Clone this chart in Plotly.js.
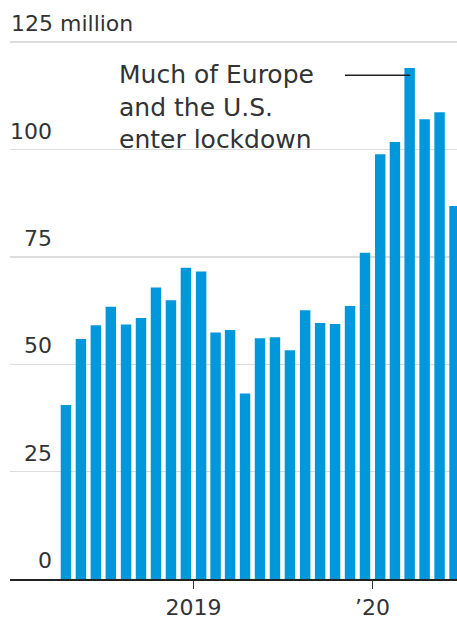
<!DOCTYPE html>
<html>
<head>
<meta charset="utf-8">
<script src="https://cdn.plot.ly/plotly-3.0.1.min.js"></script>
<style>
  html, body { margin: 0; padding: 0; background: #fff; }
  #chart { width: 457px; height: 620px; }
</style>
</head>
<body>
<div id="chart"></div>
<script>
// ---- data ----
const months = [
  '2018-04-01','2018-05-01','2018-06-01','2018-07-01','2018-08-01','2018-09-01',
  '2018-10-01','2018-11-01','2018-12-01','2019-01-01','2019-02-01','2019-03-01',
  '2019-04-01','2019-05-01','2019-06-01','2019-07-01','2019-08-01','2019-09-01',
  '2019-10-01','2019-11-01','2019-12-01','2020-01-01','2020-02-01','2020-03-01',
  '2020-04-01','2020-05-01','2020-06-01'
];
const values = [
  40.5, 55.9, 59.1, 63.4, 59.3, 60.8,
  67.9, 64.9, 72.5, 71.6, 57.4, 58.0,
  43.2, 56.1, 56.3, 53.3, 62.6, 59.6,
  59.4, 63.6, 76.0, 98.9, 101.8, 119.0,
  107.1, 108.7, 86.9
];
const yTickVals = [0, 25, 50, 75, 100, 125];
const yTickLabels = ['0', '25', '50', '75', '100', '125 million'];
const xTickVals = ['2019-01-01', '2020-01-01'];
const xTickLabels = ['2019', '\u201920'];
const noteLines = ['Much of Europe', 'and the U.S.', 'enter lockdown'];
const noteLevel = 117.3;

// ---- layout helpers ----
const FONT = 'DejaVu Sans';
const TXT = '#333333';
const W = 457, H = 620, ML = 10, MR = 0, MT = 38, MB = 41;
const plotW = W - ML - MR, plotH = H - MT - MB;
const px = p => (p - ML) / plotW;           // pixel x -> paper x
const py = p => (H - MB - p) / plotH;       // pixel y -> paper y

const annotations = [];
yTickVals.forEach((v, i) => {
  const isTop = i === yTickVals.length - 1;
  annotations.push({
    xref: 'paper', yref: 'y',
    x: isTop ? 0 : px(54), y: v,
    xanchor: isTop ? 'left' : 'right', yanchor: 'bottom',
    yshift: 4, xshift: isTop ? -1 : 0,
    text: yTickLabels[i], showarrow: false,
    font: {family: FONT, size: 22, color: TXT}
  });
});
const noteBottoms = [90.8, 124.3, 156.3];
noteLines.forEach((t, i) => {
  annotations.push({
    xref: 'paper', yref: 'paper',
    x: px(117), y: py(noteBottoms[i]),
    xanchor: 'left', yanchor: 'bottom',
    text: t, showarrow: false,
    font: {family: FONT, size: 25, color: TXT}
  });
});

const trace = {
  type: 'bar',
  x: months,
  y: values,
  xperiod: 'M1',
  xperiodalignment: 'middle',
  width: 21.3 * 86400000,
  marker: {color: '#0098da', line: {width: 0}},
  hoverinfo: 'x+y'
};

const layout = {
  width: W, height: H,
  margin: {l: ML, r: MR, t: MT, b: MB, pad: 0},
  paper_bgcolor: '#ffffff', plot_bgcolor: '#ffffff',
  showlegend: false,
  font: {family: FONT, size: 22, color: TXT},
  xaxis: {
    type: 'date',
    range: ['2017-12-23', '2020-06-21'],
    tickmode: 'array', tickvals: xTickVals, ticktext: xTickLabels,
    ticks: 'outside', ticklen: 8, tickwidth: 1.5, tickcolor: TXT,
    tickfont: {family: FONT, size: 22, color: TXT},
    showgrid: false, zeroline: false,
    showline: true, linecolor: '#222222', linewidth: 2,
    fixedrange: true
  },
  yaxis: {
    range: [0, 126],
    tickmode: 'array', tickvals: yTickVals.slice(1),
    showticklabels: false, ticks: '',
    showgrid: true, gridcolor: '#dddddd', gridwidth: 1.6,
    zeroline: false, showline: false,
    fixedrange: true
  },
  shapes: [
    { // white knock-out behind the note text
      type: 'rect', layer: 'between',
      xref: 'paper', yref: 'paper',
      x0: px(97), x1: px(345), y0: py(160), y1: py(140),
      fillcolor: '#ffffff', line: {width: 0}
    },
    { // connector to the March 2020 bar
      type: 'line', layer: 'above',
      xref: 'paper', yref: 'y',
      x0: px(345), x1: px(410), y0: noteLevel, y1: noteLevel,
      line: {color: '#222222', width: 1.5}
    }
  ],
  annotations: annotations,
  bargap: 0.3
};

Plotly.newPlot('chart', [trace], layout, {displayModeBar: false, staticPlot: true});
</script>
</body>
</html>
